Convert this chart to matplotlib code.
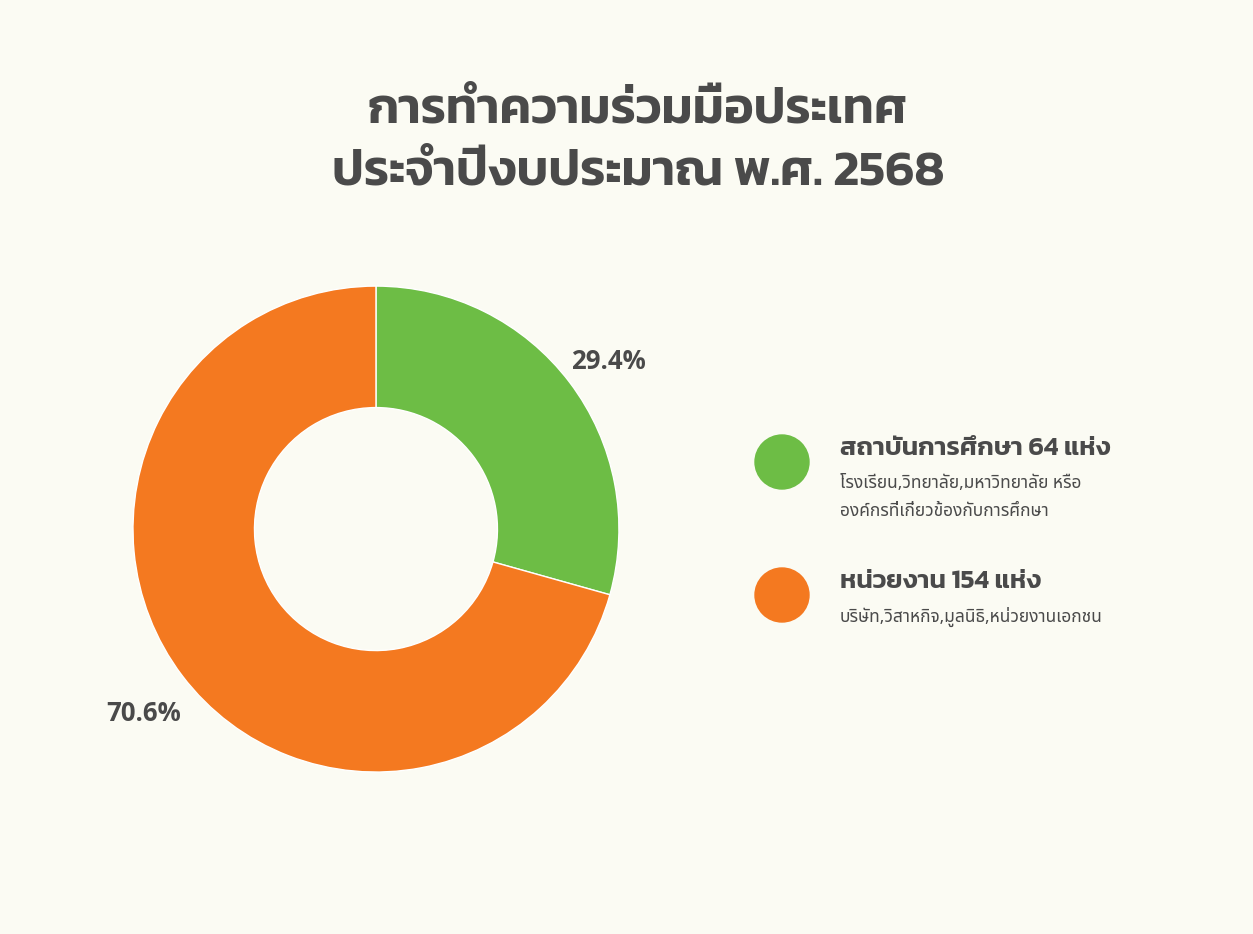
import matplotlib
matplotlib.use("Agg")
import matplotlib.pyplot as plt

# data
labels = ["สถาบันการศึกษา 64 แห่ง", "หน่วยงาน 154 แห่ง"]
details = ["โรงเรียน,วิทยาลัย,มหาวิทยาลัย หรือ\nองค์กรที่เกี่ยวข้องกับการศึกษา",
           "บริษัท,วิสาหกิจ,มูลนิธิ,หน่วยงานเอกชน"]
counts = [64, 154]
colors = ["#6dbd45", "#f47920"]
title = "การทำความร่วมมือประเทศ\nประจำปีงบประมาณ พ.ศ. 2568"

bg = "#fbfbf3"
txt = "#4a4a4a"
thai = ["Noto Sans Thai", "DejaVu Sans"]
thai_b = ["Kanit", "DejaVu Sans"]

fig = plt.figure(figsize=(12.53, 9.34), dpi=100, facecolor=bg)

fig.text(0.509, 0.848, title, ha="center", va="center", fontsize=36,
         fontweight="semibold", color=txt, family=thai_b, linespacing=1.55)

ax = fig.add_axes([0.1061, 0.1734, 0.3879, 0.5203])
ax.set_facecolor(bg)
wedges, _, pcts = ax.pie(counts, colors=colors, startangle=90, counterclock=False,
                         radius=1, autopct="%.1f%%", pctdistance=1.2,
                         wedgeprops=dict(width=0.5, edgecolor="white", linewidth=1))
for p in pcts:
    p.set_fontsize(18.5)
    p.set_fontweight("bold")
    p.set_color(txt)
    p.set_family(["Open Sans", "DejaVu Sans"])
    x, y = p.get_position()
    p.set_position((x, y - 0.035))
ax.set_xlim(-1, 1)
ax.set_ylim(-1, 1)
ax.set_aspect("equal")
ax.axis("off")

# legend drawn as circles + text
leg = fig.add_axes([0, 0, 1, 1], facecolor="none")
leg.set_xlim(0, 1253)
leg.set_ylim(934, 0)
leg.axis("off")
ys = [462, 595]
for i in range(len(counts)):
    leg.add_patch(plt.Circle((782, ys[i]), 27, color=colors[i]))
    leg.text(840, ys[i] - 13, labels[i], fontsize=19, fontweight="semibold", color=txt,
             family=thai_b, va="center", ha="left")
    leg.text(840, ys[i] + 12, details[i], fontsize=12.5, color=txt, family=thai,
             va="top", ha="left", linespacing=1.7)

fig.savefig("out.png", facecolor=bg)
